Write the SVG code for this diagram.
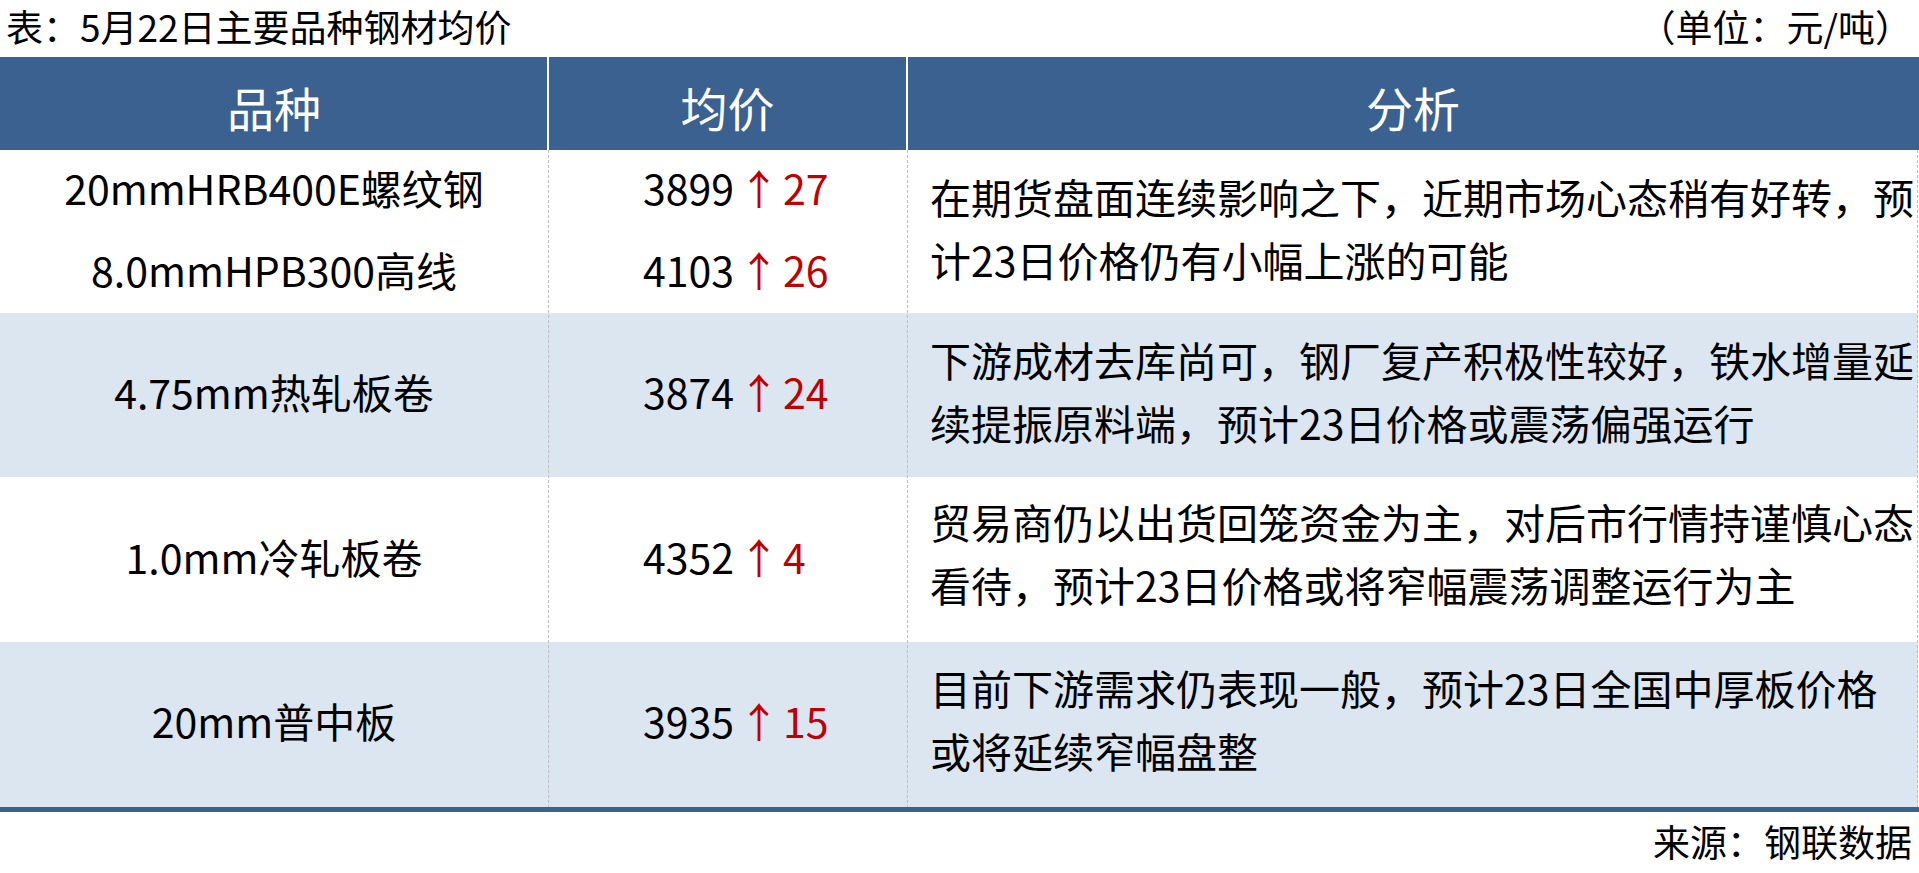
<svg xmlns="http://www.w3.org/2000/svg" width="1919" height="873" viewBox="0 0 1919 873">
<style>
text{font-family:"Noto Sans CJK SC","Noto Sans",sans-serif;fill:#000}
.cap{font-size:37px}
.hd{font-size:47px;fill:#fff;text-anchor:middle}
.c1{font-size:41px;text-anchor:middle}
.c2{font-size:41px}
.c3{font-size:41px}
.up{fill:#C00000}
.dv{stroke:#BFBFBF;stroke-width:1;stroke-dasharray:3 2}
.hv{stroke:#fff;stroke-width:2}
</style>
<rect x="0" y="0" width="1919" height="873" fill="#fff"/>
<g id="title">
<text class="cap" x="6" y="42">表：5月22日主要品种钢材均价</text>
<text class="cap" x="1912" y="42" text-anchor="end">（单位：元/吨）</text>
</g>
<g id="header">
<rect x="0" y="57" width="1919" height="93" fill="#3A6190"/>
<line class="hv" x1="548" y1="57" x2="548" y2="150"/>
<line class="hv" x1="907" y1="57" x2="907" y2="150"/>
<text class="hd" x="274" y="127">品种</text>
<text class="hd" x="727.5" y="127">均价</text>
<text class="hd" x="1413" y="127">分析</text>
</g>
<g id="rows">
<rect x="0" y="150" width="1918" height="163" fill="#fff"/>
<rect x="0" y="313" width="1918" height="164" fill="#DCE6F0"/>
<rect x="0" y="477" width="1918" height="165" fill="#fff"/>
<rect x="0" y="642" width="1918" height="165" fill="#DCE6F0"/>
<rect x="0" y="807" width="1919" height="5" fill="#3A6190"/>
</g>
<g id="connectors">
<line class="dv" x1="548.5" y1="150" x2="548.5" y2="807"/>
<line class="dv" x1="907.5" y1="150" x2="907.5" y2="807"/>
<line class="dv" x1="1917.5" y1="150" x2="1917.5" y2="807"/>
</g>
<g id="row1">
<text class="c1" x="274" y="205">20mmHRB400E螺纹钢</text>
<text class="c1" x="274" y="287">8.0mmHPB300高线</text>
<text class="c2" y="205"><tspan x="643">3899</tspan><tspan class="up" x="759" text-anchor="middle">↑</tspan><tspan class="up" x="783">27</tspan></text>
<text class="c2" y="287"><tspan x="643">4103</tspan><tspan class="up" x="759" text-anchor="middle">↑</tspan><tspan class="up" x="783">26</tspan></text>
<text class="c3" x="930" y="214">在期货盘面连续影响之下，近期市场心态稍有好转，预</text>
<text class="c3" x="930" y="277">计23日价格仍有小幅上涨的可能</text>
</g>
<g id="row2">
<text class="c1" x="274" y="409">4.75mm热轧板卷</text>
<text class="c2" y="409"><tspan x="643">3874</tspan><tspan class="up" x="759" text-anchor="middle">↑</tspan><tspan class="up" x="783">24</tspan></text>
<text class="c3" x="930" y="377">下游成材去库尚可，钢厂复产积极性较好，铁水增量延</text>
<text class="c3" x="930" y="440">续提振原料端，预计23日价格或震荡偏强运行</text>
</g>
<g id="row3">
<text class="c1" x="274" y="574">1.0mm冷轧板卷</text>
<text class="c2" y="574"><tspan x="643">4352</tspan><tspan class="up" x="759" text-anchor="middle">↑</tspan><tspan class="up" x="783">4</tspan></text>
<text class="c3" x="930" y="539">贸易商仍以出货回笼资金为主，对后市行情持谨慎心态</text>
<text class="c3" x="930" y="602">看待，预计23日价格或将窄幅震荡调整运行为主</text>
</g>
<g id="row4">
<text class="c1" x="274" y="738">20mm普中板</text>
<text class="c2" y="738"><tspan x="643">3935</tspan><tspan class="up" x="759" text-anchor="middle">↑</tspan><tspan class="up" x="783">15</tspan></text>
<text class="c3" x="930" y="705">目前下游需求仍表现一般，预计23日全国中厚板价格</text>
<text class="c3" x="930" y="768">或将延续窄幅盘整</text>
</g>
<g id="footer">
<text class="cap" x="1912" y="857" text-anchor="end">来源：钢联数据</text>
</g>
</svg>
